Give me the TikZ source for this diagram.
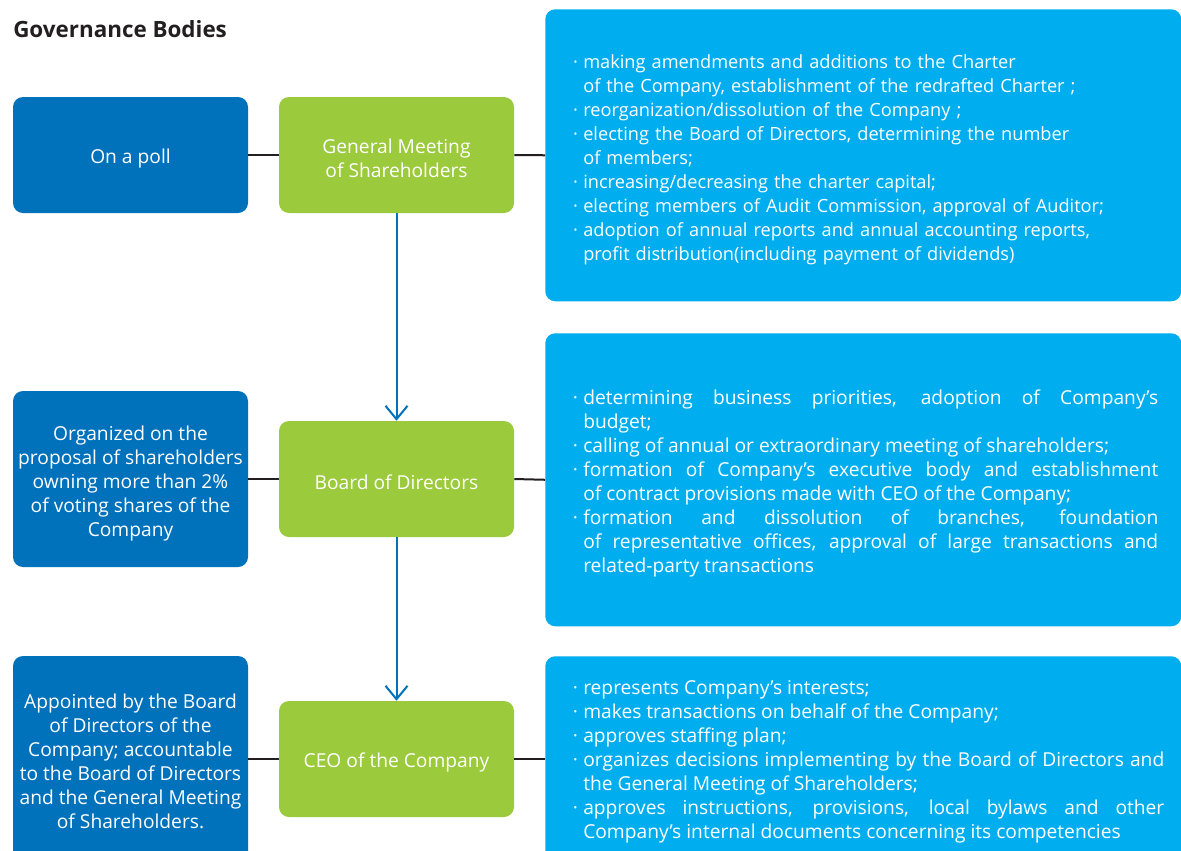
\documentclass[tikz,border=0pt]{standalone}
\usepackage{fontspec}
\setmainfont{Open Sans}
\usetikzlibrary{arrows.meta}
\definecolor{dblue}{HTML}{0071BB}
\definecolor{lgreen}{HTML}{9BCA3C}
\definecolor{lblue}{HTML}{00AEEF}
\definecolor{ink}{HTML}{231F20}
\newcommand\bul{\par\noindent\llap{·\hspace{4pt}}}
\begin{document}
\begin{tikzpicture}[x=0.75pt,y=-0.75pt,
  bx/.style={rounded corners=7.5pt, inner sep=0pt, draw=none},
  lbox/.style={bx, fill=dblue, minimum width=176.25pt},
  gbox/.style={bx, fill=lgreen, minimum width=176.25pt, minimum height=87pt},
  rbox/.style={bx, fill=lblue, minimum width=477pt, anchor=north west},
  ctext/.style={inner sep=0pt, text=white, align=center,
    font=\fontsize{14.4}{18}\selectfont},
  rtext/.style={inner sep=0pt, text=white, anchor=west,
    font=\fontsize{14.4}{18}\selectfont, execute at begin node={\hyphenpenalty=10000 }},
  conn/.style={draw=ink, line width=1.5pt},
  arr/.style={draw=dblue, line width=1.5pt, -{Straight Barb[length=10pt,width=16.5pt,line width=1.5pt]}}
]
\useasboundingbox (0,0) rectangle (1181,850);
\clip (0,0) rectangle (1181,850);

\node[anchor=base west, inner sep=0pt, text=ink, font=\bfseries\fontsize{16.8}{20}\selectfont] (title) at (13,37) {Governance Bodies};

% left boxes
\node[lbox, minimum height=87pt] (l1) at (130.5,155) {};
\node[lbox, minimum height=132pt] (l2) at (130.5,479) {};
\node[lbox, minimum height=154.5pt] (l3) at (130.5,759) {};
\node[ctext] (l1t) at ([yshift=-3pt]l1.center) {On a poll};
\node[ctext] (l2t) at ([yshift=-3.75pt]l2.center) {Organized on the\\proposal of shareholders\\owning more than 2\%\\of voting shares of the\\Company};
\node[ctext] (l3t) at ([yshift=-2pt]l3.center) {Appointed by the Board\\of Directors of the\\Company; accountable\\to the Board of Directors\\and the General Meeting\\of Shareholders.};

% green boxes
\node[gbox] (g1) at (396.5,155) {};
\node[gbox] (g2) at (396.5,479) {};
\node[gbox] (g3) at (396.5,759) {};
\node[ctext] (g1t) at ([yshift=-2.25pt]g1.center) {General Meeting\\of Shareholders};
\node[ctext] (g2t) at ([yshift=-2.25pt]g2.center) {Board of Directors};
\node[ctext] (g3t) at ([yshift=-2.25pt]g3.center) {CEO of the Company};

% right boxes
\node[rbox, minimum height=219pt] (r1) at (545,9) {};
\node[rbox, minimum height=219.75pt] (r2) at (545,333) {};
\node[rbox, minimum height=156pt] (r3) at (545,656) {};

\node[rtext, text width=440pt, align=left, font=\fontsize{13.65}{18}\selectfont] (t1) at ([xshift=28.5pt, yshift=0.75pt]r1.west) {%
\bul making amendments and additions to the Charter\\of the Company, establishment of the redrafted Charter ;
\bul reorganization/dissolution of the Company ;
\bul electing the Board of Directors, determining the number\\of members;
\bul increasing/decreasing the charter capital;
\bul electing members of Audit Commission, approval of Auditor;
\bul adoption of annual reports and annual accounting reports,\\profit distribution(including payment of dividends)};

\node[rtext, text width=431.25pt, align=justify] (t2) at ([xshift=28.5pt, yshift=0.5pt]r2.west) {%
\bul determining business priorities, adoption of Company’s\linebreak budget;
\bul calling of annual or extraordinary meeting of shareholders;
\bul formation of Company’s executive body and establishment\linebreak of contract provisions made with CEO of the Company;
\bul formation and dissolution of branches, foundation\linebreak of representative offices, approval of large transactions and\linebreak related-party transactions};

\node[rtext, text width=435.75pt, align=justify] (t3) at ([xshift=28.5pt, yshift=2.25pt]r3.west) {%
\bul represents Company’s interests;
\bul makes transactions on behalf of the Company;
\bul approves staffing plan;
\bul organizes decisions implementing by the Board of Directors and\linebreak the General Meeting of Shareholders;
\bul approves instructions, provisions, local bylaws and other\linebreak Company’s internal documents concerning its competencies};

% connectors
\draw[conn] (l1.east) -- (g1.west);
\draw[conn] (g1.east) -- (r1.west);
\draw[conn] (l2.east) -- (g2.west);
\draw[conn] (g2.east) -- (r2.west);
\draw[conn] (l3.east) -- (g3.west);
\draw[conn] (g3.east) -- (r3.west |- g3.east);
\draw[arr] (g1.south) -- (g2.north);
\draw[arr] (g2.south) -- (g3.north);
\end{tikzpicture}
\end{document}
